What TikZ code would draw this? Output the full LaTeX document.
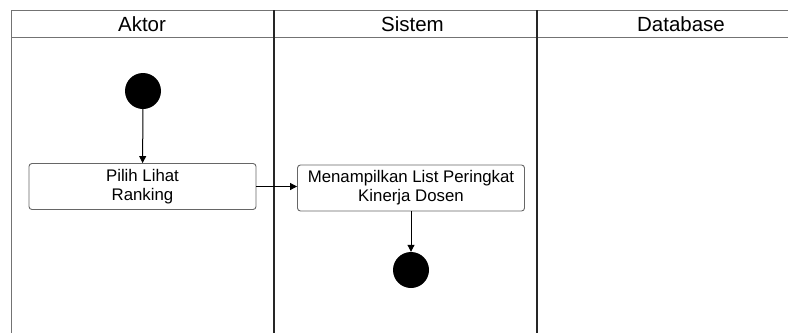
\documentclass[tikz,border=0pt]{standalone}
\usepackage{fontspec}
\setmainfont{Liberation Sans}
\usetikzlibrary{arrows.meta}

\tikzset{
  lane/.style={draw=black!55, line width=1pt},
  divider/.style={draw=black!85, line width=1.6pt},
  title/.style={font=\fontsize{20.5}{23}\selectfont, inner sep=0pt},
  action/.style={draw=black!60, rounded corners=3pt, line width=0.9pt, minimum width=227pt, minimum height=46pt, inner sep=0pt, align=center, font=\fontsize{16.8}{19}\selectfont},
  dot/.style={circle, fill=black, minimum size=36pt, inner sep=0pt},
  flow/.style={-{Triangle[length=7pt,width=7pt]}, line width=1pt}
}

\begin{document}
\begin{tikzpicture}[x=1pt, y=-1pt]
			\useasboundingbox (0,0) rectangle (788,333);

			% Define swimlanes
			\draw[lane] (788,10) -- (11,10) -- (11,333);
			\draw[lane] (11,37) -- (788,37);
			\draw[divider] (274,10) -- (274,333);
			\draw[divider] (537,10) -- (537,333);
			\node[title] (aktor) at (142,24) {Aktor};
			\node[title] (sistem) at (412.5,24) {Sistem};
			\node[title] (database) at (681,24) {Database};

			% Define vertices
			\node[dot] (start) at (143,91) {};
			\node[action] (pilih) at (142.5,186.5) {Pilih Lihat\\Ranking};
			\node[action] (tampil) at (411,188) {Menampilkan List Peringkat\\Kinerja Dosen};
			\node[dot] (end) at (411,270) {};

			% Draw edges
			\draw[flow] (start) -- (pilih);
			\draw[flow] (pilih.east) -- (pilih.east -| tampil.west);
			\draw[flow] (tampil) -- (end);
		\end{tikzpicture}
\end{document}
